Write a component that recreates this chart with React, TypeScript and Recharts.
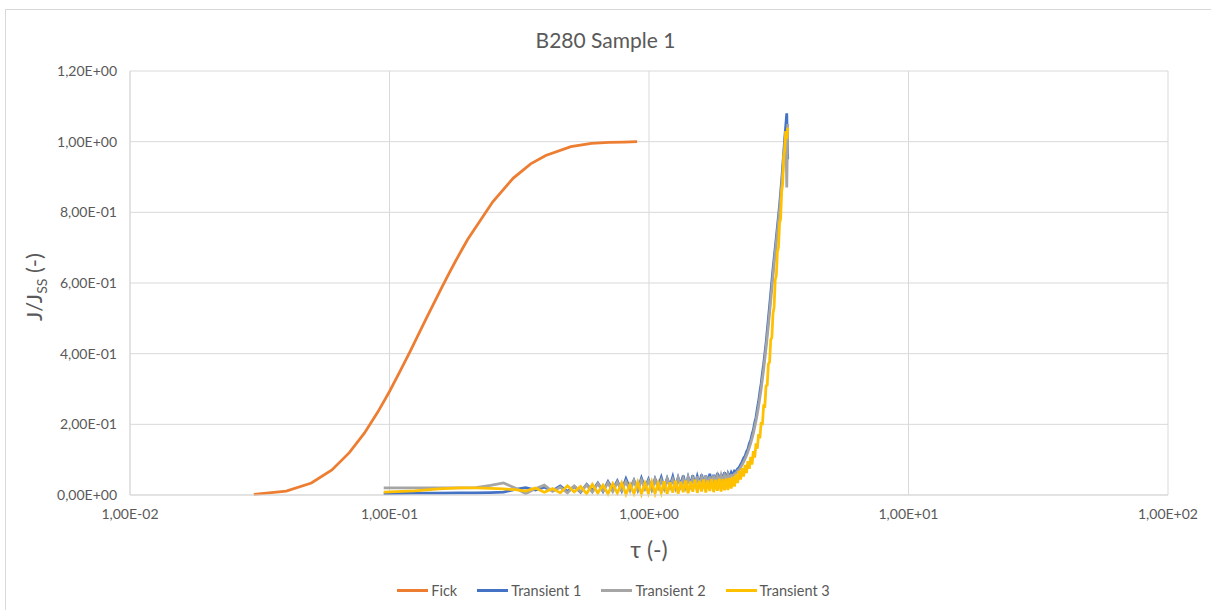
import React from "react";
import { CartesianGrid, Line, LineChart, XAxis, YAxis } from "recharts";

// Fick reference curve
const fickTau = [
  0.03, 0.04, 0.05, 0.06, 0.07, 0.08, 0.09, 0.1, 0.11, 0.12, 0.13, 0.14, 0.15, 0.16, 0.17, 0.18, 0.19, 0.2,
  0.25, 0.3, 0.35, 0.4, 0.5, 0.6, 0.7, 0.8, 0.9,
];
const fickJ = [
  0.002, 0.011, 0.034, 0.071, 0.12, 0.175, 0.234, 0.293, 0.351, 0.406, 0.458, 0.506, 0.55, 0.591, 0.629, 0.663,
  0.694, 0.723, 0.83, 0.897, 0.937, 0.961, 0.986, 0.995, 0.998, 0.999, 1.0,
];

// measured transients (shared tau grid)
const transientTau = [
  0.095, 0.125, 0.155, 0.185, 0.215, 0.245, 0.275, 0.305, 0.335, 0.365,
  0.395, 0.425, 0.455, 0.485, 0.515, 0.545, 0.575, 0.605, 0.635, 0.665,
  0.695, 0.725, 0.755, 0.785, 0.815, 0.845, 0.875, 0.905, 0.935, 0.965,
  0.995, 1.025, 1.055, 1.085, 1.115, 1.145, 1.175, 1.205, 1.235, 1.265,
  1.295, 1.325, 1.355, 1.385, 1.415, 1.445, 1.475, 1.505, 1.535, 1.565,
  1.595, 1.625, 1.655, 1.685, 1.715, 1.745, 1.775, 1.805, 1.835, 1.865,
  1.895, 1.925, 1.955, 1.985, 2.015, 2.045, 2.075, 2.105, 2.135, 2.165,
  2.195, 2.225, 2.255, 2.285, 2.315, 2.345, 2.375, 2.405, 2.435, 2.465,
  2.495, 2.525, 2.555, 2.585, 2.615, 2.645, 2.675, 2.705, 2.735, 2.765,
  2.795, 2.825, 2.855, 2.885, 2.915, 2.945, 2.975, 3.005, 3.035, 3.065,
  3.095, 3.125, 3.155, 3.185, 3.215, 3.245, 3.275, 3.305, 3.335, 3.365,
  3.395, 3.425,
];
const transient1 = [
  0.004, 0.005, 0.005, 0.006, 0.006, 0.007, 0.008, 0.016, 0.021, 0.014,
  0.022, 0.012, 0.026, 0.01, 0.024, 0.008, 0.03, 0.012, 0.034, 0.01,
  0.038, 0.015, 0.04, 0.012, 0.046, 0.018, 0.042, 0.014, 0.048, 0.02,
  0.044, 0.016, 0.046, 0.024, 0.05, 0.02, 0.047, 0.026, 0.052, 0.022,
  0.049, 0.028, 0.055, 0.024, 0.051, 0.03, 0.056, 0.026, 0.053, 0.032,
  0.058, 0.03, 0.055, 0.034, 0.06, 0.032, 0.057, 0.036, 0.062, 0.034,
  0.059, 0.04, 0.064, 0.042, 0.061, 0.05, 0.064, 0.056, 0.068, 0.066,
  0.074, 0.078, 0.086, 0.094, 0.104, 0.11, 0.122, 0.13, 0.145, 0.155,
  0.172, 0.185, 0.205, 0.22, 0.245, 0.265, 0.292, 0.315, 0.345, 0.37,
  0.4, 0.43, 0.465, 0.5, 0.535, 0.57, 0.605, 0.64, 0.67, 0.7,
  0.73, 0.76, 0.79, 0.82, 0.855, 0.89, 0.93, 0.97, 1.01, 1.045,
  1.08, 0.95,
];
const transient2 = [
  0.02, 0.02, 0.02, 0.02, 0.021, 0.027, 0.034, 0.02, 0.004, 0.018,
  0.028, 0.01, 0.022, 0.006, 0.026, 0.01, 0.028, 0.008, 0.032, 0.012,
  0.034, 0.01, 0.036, 0.014, 0.038, 0.012, 0.04, 0.016, 0.042, 0.018,
  0.04, 0.016, 0.044, 0.02, 0.042, 0.018, 0.046, 0.022, 0.044, 0.02,
  0.048, 0.024, 0.046, 0.022, 0.05, 0.026, 0.048, 0.028, 0.052, 0.026,
  0.05, 0.03, 0.054, 0.028, 0.052, 0.032, 0.055, 0.034, 0.054, 0.036,
  0.056, 0.038, 0.056, 0.04, 0.058, 0.046, 0.056, 0.054, 0.06, 0.062,
  0.068, 0.072, 0.078, 0.086, 0.094, 0.102, 0.112, 0.122, 0.134, 0.146,
  0.16, 0.175, 0.192, 0.21, 0.23, 0.252, 0.276, 0.3, 0.328, 0.355,
  0.385, 0.415, 0.448, 0.48, 0.515, 0.55, 0.585, 0.62, 0.655, 0.685,
  0.715, 0.745, 0.775, 0.805, 0.84, 0.875, 0.912, 0.95, 0.99, 1.03,
  0.87, 1.05,
];
const transient3 = [
  0.008, 0.012, 0.017, 0.02, 0.02, 0.019, 0.017, 0.015, 0.011, 0.02,
  0.008, 0.018, 0.006, 0.026, 0.009, 0.024, 0.004, 0.03, 0.006, 0.028,
  0.003, 0.032, 0.005, 0.034, 0.002, 0.03, 0.004, 0.036, 0.003, 0.033,
  0.005, 0.037, 0.004, 0.034, 0.006, 0.039, 0.003, 0.036, 0.007, 0.04,
  0.004, 0.037, 0.008, 0.041, 0.005, 0.038, 0.009, 0.043, 0.006, 0.04,
  0.01, 0.044, 0.007, 0.041, 0.011, 0.045, 0.008, 0.043, 0.012, 0.046,
  0.01, 0.045, 0.013, 0.047, 0.014, 0.048, 0.018, 0.052, 0.024, 0.058,
  0.034, 0.068, 0.044, 0.076, 0.052, 0.085, 0.062, 0.096, 0.074, 0.108,
  0.086, 0.124, 0.106, 0.146, 0.131, 0.172, 0.16, 0.206, 0.198, 0.252,
  0.251, 0.309, 0.311, 0.371, 0.376, 0.439, 0.446, 0.514, 0.531, 0.609,
  0.621, 0.689, 0.701, 0.769, 0.781, 0.859, 0.881, 0.959, 0.976, 1.03,
  1.008, 1.04,
];

const xTicks = [0.01, 0.1, 1, 10, 100];
const yTicks = [0, 0.2, 0.4, 0.6, 0.8, 1.0, 1.2];

const fickData = fickTau.map((t, i) => ({ tau: t, j: fickJ[i] }));
const t1Data = transientTau.map((t, i) => ({ tau: t, j: transient1[i] }));
const t2Data = transientTau.map((t, i) => ({ tau: t, j: transient2[i] }));
const t3Data = transientTau.map((t, i) => ({ tau: t, j: transient3[i] }));

const series = [
  { name: "Fick", color: "#ED7D31", data: fickData },
  { name: "Transient 1", color: "#4472C4", data: t1Data },
  { name: "Transient 2", color: "#A5A5A5", data: t2Data },
  { name: "Transient 3", color: "#FFC000", data: t3Data },
];

const font = "Lato, 'Open Sans', sans-serif";
const textColor = "#595959";
const gridColor = "#d9d9d9";

function sci(v: number) {
  if (v === 0) return "0,00E+00";
  const [m, e] = v.toExponential(2).split("e");
  const n = Number(e);
  return `${m.replace(".", ",")}E${n < 0 ? "-" : "+"}${String(Math.abs(n)).padStart(2, "0")}`;
}

const YLabel = () => (
  <text
    x={42}
    y={287}
    transform="rotate(-90, 42, 287)"
    textAnchor="middle"
    fill={textColor}
    fontSize={22}
    fontFamily={font}
  >
    J/J
    <tspan dy={5} fontSize={14}>SS</tspan>
    <tspan dy={-5}> (-)</tspan>
  </text>
);

export default function App() {
  return (
    <div
      style={{
        position: "absolute",
        left: 0,
        top: 0,
        width: 1211,
        height: 610,
        background: "#fff",
        overflow: "hidden",
        fontFamily: font,
      }}
    >
      <div
        style={{
          position: "absolute",
          left: 5,
          top: 9,
          width: 1300,
          height: 700,
          borderLeft: `1px solid ${gridColor}`,
          borderTop: `1px solid ${gridColor}`,
        }}
      />
      <div
        style={{
          position: "absolute",
          left: 0,
          width: 1211,
          top: 27,
          textAlign: "center",
          fontSize: 21,
          color: textColor,
        }}
      >
        B280 Sample 1
      </div>
      <LineChart
        width={1211}
        height={610}
        margin={{ top: 71, right: 43, bottom: 90, left: 55 }}
        style={{ position: "absolute", left: 0, top: 0 }}
      >
        <CartesianGrid stroke={gridColor} strokeWidth={1} />
        <XAxis
          dataKey="tau"
          type="number"
          scale="log"
          domain={[0.01, 100]}
          ticks={xTicks}
          allowDataOverflow
          tickFormatter={sci}
          tickLine={false}
          tickMargin={8}
          height={25}
          axisLine={{ stroke: gridColor }}
          tick={{ fill: textColor, fontSize: 14, fontFamily: font }}
          label={{
            value: "τ (-)",
            position: "insideBottom",
            offset: -38,
            fill: textColor,
            fontSize: 23,
            fontFamily: font,
          }}
        />
        <YAxis
          dataKey="j"
          type="number"
          domain={[0, 1.2]}
          ticks={yTicks}
          tickFormatter={sci}
          tickLine={false}
          tickMargin={7}
          width={75}
          axisLine={{ stroke: gridColor }}
          tick={{ fill: textColor, fontSize: 14, fontFamily: font }}
          label={<YLabel />}
        />
        {series.map((s) => (
          <Line
            key={s.name}
            data={s.data}
            dataKey="j"
            name={s.name}
            type="linear"
            stroke={s.color}
            strokeWidth={2.75}
            dot={false}
            activeDot={false}
            isAnimationActive={false}
          />
        ))}
      </LineChart>
      <div
        style={{
          position: "absolute",
          left: 0,
          width: 1211,
          top: 582,
          display: "flex",
          justifyContent: "center",
          paddingLeft: 36,
          boxSizing: "border-box",
          fontSize: 14.5,
          color: textColor,
        }}
      >
        {series.map((s) => (
          <div key={s.name} style={{ display: "flex", alignItems: "center", marginRight: 20 }}>
            <span style={{ display: "inline-block", width: 31, height: 3, background: s.color, marginRight: 3 }} />
            <span>{s.name}</span>
          </div>
        ))}
      </div>
    </div>
  );
}
